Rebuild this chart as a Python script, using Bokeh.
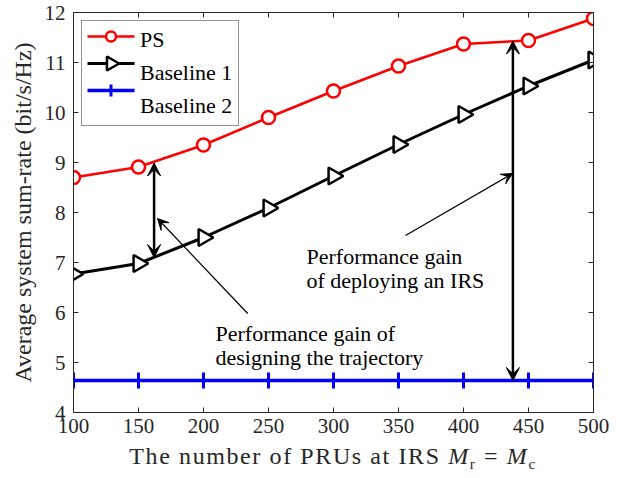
from bokeh.plotting import figure
from bokeh.models import (ColumnDataSource, Arrow, VeeHead, Label, LinearAxis,
                          FixedTicker, Legend, LegendItem, Range1d, Div)
from bokeh.layouts import column
from bokeh.embed import file_html
from bokeh.resources import INLINE

# ---------------- data ----------------
prus = [100, 150, 200, 250, 300, 350, 400, 450, 500]
ps_rate = [8.70, 8.91, 9.35, 9.90, 10.43, 10.93, 11.37, 11.44, 11.88]
baseline1_rate = [6.77, 6.98, 7.50, 8.09, 8.73, 9.36, 9.96, 10.53, 11.05]
baseline2_rate = [4.64, 4.64, 4.64, 4.64, 4.64, 4.64, 4.64, 4.64, 4.64]

x_ticks = [100, 150, 200, 250, 300, 350, 400, 450, 500]
y_ticks = [4, 5, 6, 7, 8, 9, 10, 11, 12]

series_names = ["PS", "Baseline 1", "Baseline 2"]

# double arrows (x, y_low, y_high)
traj_gain = (162, 7.10, 8.99)
irs_gain = (438, 4.64, 11.43)
# pointer arrows (x_tail, y_tail, x_head, y_head)
traj_pointer = (234, 5.98, 164.6, 7.88)
irs_pointer = (355.4, 7.54, 437.7, 8.78)

FONT = "Liberation Serif"
AX = "#262626"

# axes box in canvas pixels: x 73..593, y 12..412
BOX_L, BOX_R, BOX_T, BOX_B = 73, 593, 12, 412
W, H = 615, 448
L, R, T, B = BOX_L, W - BOX_R, BOX_T, H - BOX_B

xmin, xmax = x_ticks[0], x_ticks[-1]
ymin, ymax = y_ticks[0], y_ticks[-1]
ux = (xmax - xmin) / float(BOX_R - BOX_L)
uy = (ymax - ymin) / float(BOX_B - BOX_T)


def dx(px):
    return xmin + (px - BOX_L) * ux


def dy(py):
    return ymax - (py - BOX_T) * uy


p = figure(width=W, height=H, output_backend="svg", toolbar_location=None,
           title=None,
           x_range=Range1d(xmin, xmax), y_range=Range1d(ymin, ymax),
           min_border_left=L, min_border_right=R, min_border_top=T,
           min_border_bottom=B)
p.outline_line_color = None
p.xgrid.visible = False
p.ygrid.visible = False
p.background_fill_color = "white"
p.border_fill_color = "white"


def style_axis(ax, ticks, labels=True):
    ax.ticker = FixedTicker(ticks=ticks)
    ax.axis_line_color = AX
    ax.axis_line_width = 1
    ax.major_tick_line_color = AX
    ax.major_tick_in = 5
    ax.major_tick_out = 0
    ax.minor_tick_line_color = None
    ax.major_label_text_font = FONT
    ax.major_label_text_color = AX
    ax.major_label_text_font_size = "21px"
    if not labels:
        ax.major_label_overrides = {t: "" for t in ticks}
        ax.major_label_standoff = 0


# extra axes close the box
p.add_layout(LinearAxis(), "above")
p.add_layout(LinearAxis(), "right")
for ax in p.below:
    style_axis(ax, x_ticks)
    ax.major_label_standoff = 6
for ax in p.left:
    style_axis(ax, y_ticks)
    ax.major_label_standoff = 8
    ax.axis_label = "Average system sum-rate (bit/s/Hz)"
    ax.axis_label_text_font = FONT
    ax.axis_label_text_font_size = "24px"
    ax.axis_label_text_font_style = "normal"
    ax.axis_label_text_color = AX
    ax.axis_label_standoff = 6
for ax in p.above:
    style_axis(ax, x_ticks, labels=False)
for ax in p.right:
    style_axis(ax, y_ticks, labels=False)

# ---------------- series ----------------
src = ColumnDataSource(dict(x=prus, ps=ps_rate, b1=baseline1_rate, b2=baseline2_rate))

styles = [
    dict(col="ps", color="#ff0000", lw=2.5, marker="circle", size=13, lsize=10,
         mlw=2.5, angle=0.0, fill="white"),
    dict(col="b1", color="black", lw=3, marker="triangle", size=17, lsize=14,
         mlw=2.5, angle=-1.5708, fill="white"),
    dict(col="b2", color="#0000ff", lw=3.5, marker="cross", size=16, lsize=12,
         mlw=3, angle=0.0, fill=None),
]
for st in reversed(styles):
    p.line("x", st["col"], source=src, line_color=st["color"], line_width=st["lw"])
    p.scatter("x", st["col"], source=src, marker=st["marker"], size=st["size"],
              angle=st["angle"], line_color=st["color"], line_width=st["mlw"],
              fill_color=st["fill"])

# ---------------- arrows ----------------
for (xa, ylo, yhi) in (traj_gain, irs_gain):
    p.add_layout(Arrow(x_start=xa, y_start=ylo, x_end=xa, y_end=yhi,
                       line_color="black", line_width=2.5,
                       start=VeeHead(size=13, fill_color="black", line_color="black", line_width=1),
                       end=VeeHead(size=13, fill_color="black", line_color="black", line_width=1)))
for (xt, yt, xh, yh) in (traj_pointer, irs_pointer):
    p.add_layout(Arrow(x_start=xt, y_start=yt, x_end=xh, y_end=yh,
                       line_color="black", line_width=1.2,
                       end=VeeHead(size=11, fill_color="black", line_color="black", line_width=1)))

# ---------------- annotation texts ----------------
TXT_SHIFT = 5
ann = [("Performance gain", 306, 261), ("of deploying an IRS", 306, 285),
       ("Performance gain of", 215, 338), ("designing the trajectory", 215, 362)]
for txt, px, py in ann:
    p.add_layout(Label(x=dx(px), y=dy(py - TXT_SHIFT), text=txt, text_font=FONT,
                       text_font_size="22px", text_color="black",
                       text_align="left", text_baseline="alphabetic"))

# ---------------- legend ----------------
# Bokeh legend gives the box and labels; its sample glyphs are drawn as plain glyphs
# underneath (transparent legend background) so that the triangle can point right.
LEG_MARGIN, LEG_PAD, LEG_GW, LEG_H, LEG_SP = 8, 6, 47, 20, 7
items = []
for i, (name, st) in enumerate(zip(series_names, styles)):
    ry = dy(BOX_T + LEG_MARGIN + LEG_PAD + LEG_H / 2 + i * (LEG_H + LEG_SP))
    gx0 = dx(BOX_L + LEG_MARGIN + LEG_PAD)
    gx1 = dx(BOX_L + LEG_MARGIN + LEG_PAD + LEG_GW)
    p.line(x=[gx0, gx1], y=[ry, ry], line_color=st["color"], line_width=st["lw"])
    p.scatter([(gx0 + gx1) / 2], [ry], marker=st["marker"], size=st["lsize"],
              angle=st["angle"], line_color=st["color"], line_width=st["mlw"],
              fill_color=st["fill"])
    dummy = p.line(x=[gx0, gx1], y=[ry, ry], line_alpha=0)
    items.append(LegendItem(label=name, renderers=[dummy]))

legend = Legend(items=items, location="top_left")
legend.margin = LEG_MARGIN
legend.padding = LEG_PAD
legend.spacing = LEG_SP
legend.glyph_width = LEG_GW
legend.glyph_height = LEG_H
legend.label_height = LEG_H
legend.label_standoff = 5
legend.label_text_font = FONT
legend.label_text_font_size = "22px"
legend.label_text_color = "black"
legend.border_line_color = AX
legend.border_line_width = 1
legend.background_fill_alpha = 0
p.add_layout(legend)

# ---------------- x-axis title (HTML so that the math part can be italic/subscript) ----------------
xlabel = Div(
    text=('The number of PRUs at IRS <i>M</i><span style="font-size:15px;'
          'position:relative;top:5px">r</span> = <i>M</i><span style="font-size:15px;'
          'position:relative;top:5px">c</span>'),
    width=W, height=30, margin=(0, 0, 0, 0),
    styles={"font-family": FONT, "font-size": "24px", "color": AX,
            "text-align": "center", "padding-left": "51px",
            "letter-spacing": "1.6px", "line-height": "16px",
            "box-sizing": "border-box"})

layout = column(p, xlabel, spacing=0)
open("out.html", "w").write(file_html(layout, INLINE))
